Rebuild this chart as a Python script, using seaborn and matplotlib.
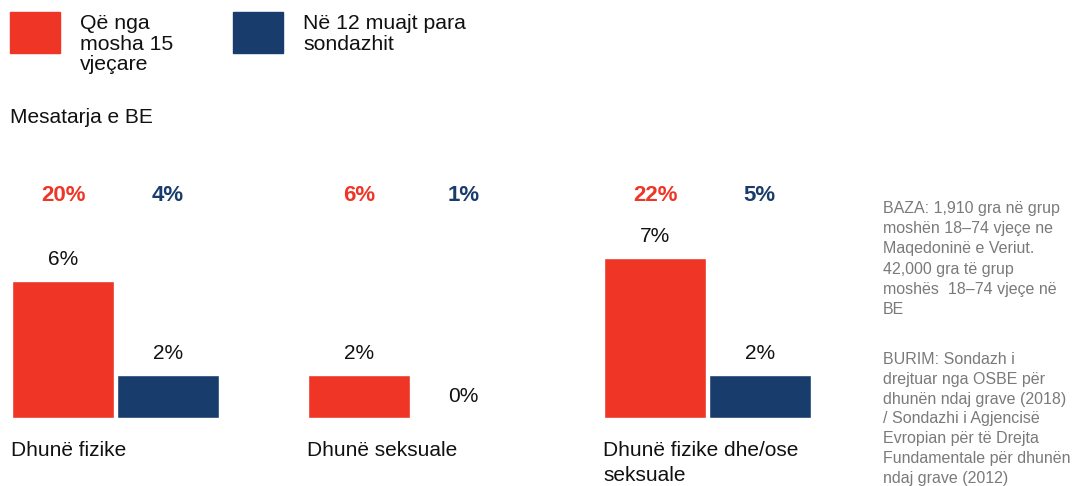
import numpy as np
import pandas as pd
import seaborn as sns
import matplotlib.pyplot as plt
from matplotlib.patches import Rectangle

sns.set_theme(style="white")
plt.rcParams["font.family"] = ["Liberation Sans", "DejaVu Sans"]

RED = "#EE3526"
BLUE = "#183D6C"
GREY = "#7A7A7A"

categories = ["Dhunë fizike", "Dhunë seksuale", "Dhunë fizike dhe/ose\nseksuale"]
series = ["Që nga\nmosha 15\nvjeçare", "Në 12 muajt para\nsondazhit"]
since15 = [6.0, 1.9, 7.0]
last12 = [1.9, 0.0, 1.9]
since15_labels = ["6%", "2%", "7%"]
last12_labels = ["2%", "0%", "2%"]
eu_since15 = ["20%", "6%", "22%"]
eu_last12 = ["4%", "1%", "5%"]

note_baza = ["BAZA: 1,910 gra në grup", "moshën 18–74 vjeçe ne", "Maqedoninë e Veriut.",
             "42,000 gra të grup", "moshës  18–74 vjeçe në", "BE"]
note_burim = ["BURIM: Sondazh i", "drejtuar nga OSBE për", "dhunën ndaj grave (2018)",
              "/ Sondazhi i Agjencisë", "Evropian për të Drejta",
              "Fundamentale për dhunën", "ndaj grave (2012)"]

df = pd.DataFrame({
    "cat": categories * 2,
    "serie": [series[0]] * 3 + [series[1]] * 3,
    "val": since15 + last12,
})

W, H = 1075, 486
fig = plt.figure(figsize=(W / 100, H / 100), dpi=100)
ax = fig.add_axes([11 / W, (H - 418) / H, 801 / W, 268 / H])

sns.barplot(data=df, x="cat", y="val", hue="serie", order=categories,
            hue_order=series, palette=[RED, BLUE], width=0.706, gap=0.02,
            saturation=1, legend=False, ax=ax)

half = 0.706 / 2
ax.set_xlim(-half, 2 + half)
ax.set_ylim(0, 268 / 22.86)
ax.axis("off")


def ftext(x, base, s, **kw):
    # tekst ne piksela, y = vija baze nga lart
    fig.text(x / W, 1 - base / H, s, ha="left", va="baseline", **kw)


# etiketat e vlerave mbi shtyllat
for container, labels in zip(ax.containers, [since15_labels, last12_labels]):
    for bar, lab in zip(container, labels):
        x = bar.get_x() + bar.get_width() / 2
        ax.annotate(lab, (x, bar.get_height()), xytext=(0, 11.5), textcoords="offset points",
                    ha="center", va="baseline", fontsize=15, color="#111111")

# mesatarja e BE
eu_y = (418 - 201) / 22.86
for container, labels, col in zip(ax.containers, [eu_since15, eu_last12], [RED, BLUE]):
    for bar, lab in zip(container, labels):
        x = bar.get_x() + bar.get_width() / 2
        ax.text(x, eu_y, lab, ha="center", va="baseline", fontsize=16,
                fontweight="bold", color=col)

# emrat e kategorive
for i, c in enumerate(categories):
    for j, line in enumerate(c.split("\n")):
        ftext(11 + 296 * i, 456 + 25 * j, line, fontsize=15, color="#111111")

# legjenda
for sx, tx, col, lab in [(10, 80, RED, series[0]), (233, 303, BLUE, series[1])]:
    fig.add_artist(Rectangle((sx / W, 1 - 53 / H), 50 / W, 41 / H,
                             transform=fig.transFigure, color=col))
    for j, line in enumerate(lab.split("\n")):
        ftext(tx, 29 + 20.5 * j, line, fontsize=15.3, color="#111111")

ftext(10, 123, "Mesatarja e BE", fontsize=15, color="#111111")

for j, line in enumerate(note_baza):
    ftext(883, 213 + 20 * j + (1 if j >= 3 else 0), line, fontsize=11.5, color=GREY)
for j, line in enumerate(note_burim):
    ftext(883, 364 + 19.8 * j, line, fontsize=11.5, color=GREY)

fig.savefig("out.png", dpi=100)
